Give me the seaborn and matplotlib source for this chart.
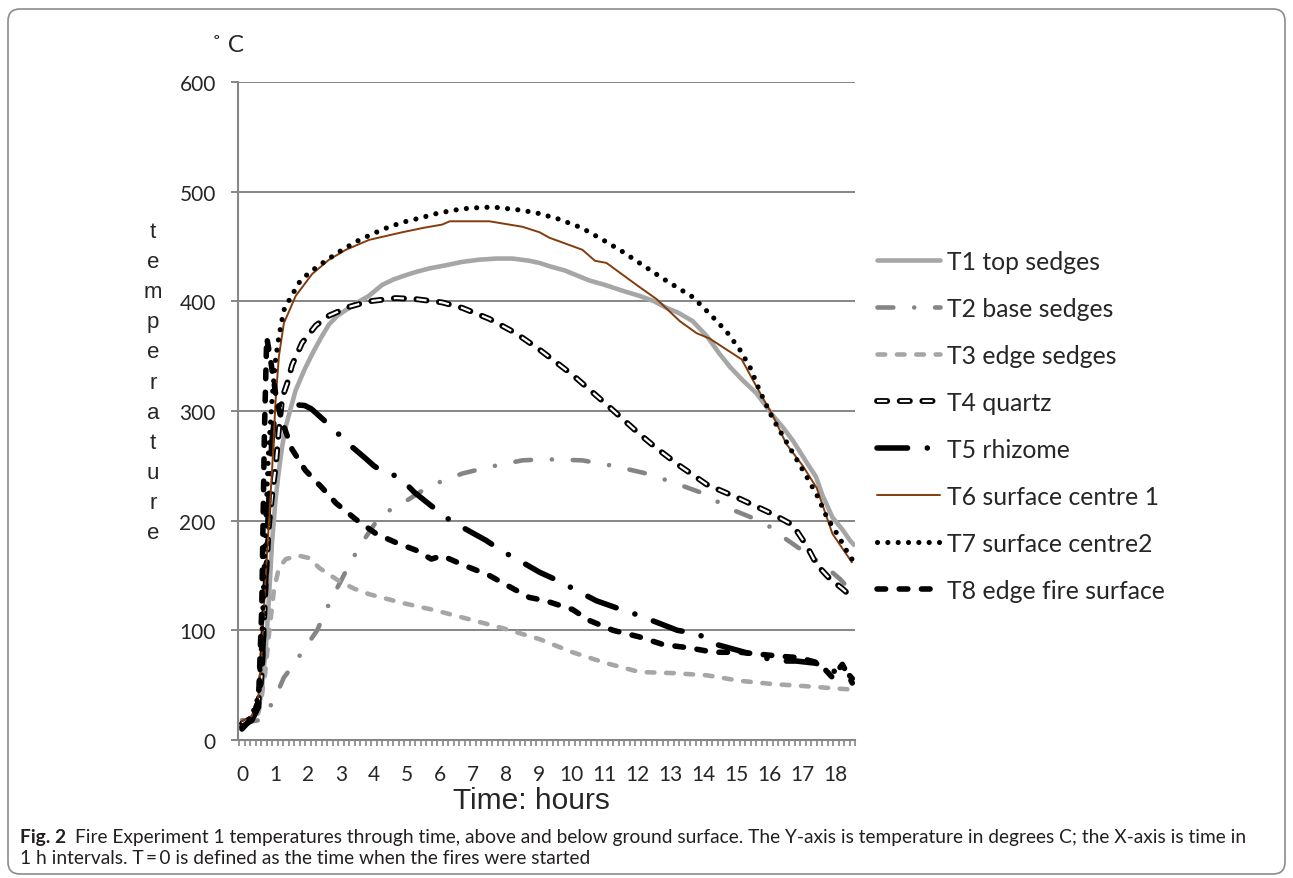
import numpy as np
import matplotlib
matplotlib.use("Agg")
import matplotlib.pyplot as plt
import matplotlib.patheffects as pe
from matplotlib.patches import FancyBboxPatch
import seaborn as sns

# ---------------- data ----------------
t1_h = [0, 0.3, 0.5, 0.6, 0.73, 0.82, 0.91, 1.02, 1.12, 1.22, 1.33, 1.5, 1.63, 1.9, 2.13, 2.4, 2.64, 2.9,
        3.15, 3.5, 3.85, 4.25, 4.6, 4.98, 5.3, 5.68, 6.2, 6.68, 7.2, 7.71, 8.2, 8.71, 9.02, 9.32, 9.8,
        10.53, 11.0, 11.5, 12.05, 12.5, 12.87, 13.2, 13.66, 14.1, 14.48, 14.8, 15.18, 15.6, 16.09, 16.4,
        16.7, 17.12, 17.4, 17.6, 17.9, 18.2, 18.43, 18.55]
t1_v = [15, 18, 28, 45, 87, 130, 180, 220, 246, 268, 286, 305, 319, 338, 352, 367, 379, 387,
        392, 399, 405, 415, 420, 424, 427, 430, 433, 436, 438, 439, 439, 437, 435, 432, 428,
        419, 415, 410, 405, 400, 394, 390, 382, 368, 352, 340, 328, 316, 296, 285,
        273, 253, 240, 223, 203, 192, 182, 178]

t2_h = [0, 0.3, 0.5, 0.7, 0.88, 1.1, 1.27, 1.5, 1.82, 2.05, 2.28, 2.5, 2.73, 3.0, 3.25, 3.64, 4.16, 4.6,
        4.98, 5.5, 5.98, 6.68, 7.5, 8.5, 9.2, 10.32, 11.25, 12.26, 13.06, 13.97, 14.78, 15.6, 16.09,
        16.5, 17.12, 17.73, 18.12, 18.5]
t2_v = [18, 17, 18, 22, 32, 45, 57, 66, 80, 90, 100, 115, 130, 145, 160, 180, 203, 212,
        218, 228, 235, 243, 249, 255, 256, 255, 250, 243, 235, 225, 211, 201, 193,
        183, 170, 157, 147, 135]

t3_h = [0, 0.3, 0.5, 0.6, 0.7, 0.82, 0.97, 1.12, 1.33, 1.73, 2.03, 2.34, 2.94, 3.4, 3.85, 4.86, 5.89,
        6.9, 7.9, 9.02, 10.02, 11.05, 12.05, 13.06, 14.09, 15.09, 16.09, 17.12, 18.0, 18.5]
t3_v = [15, 17, 25, 40, 60, 97, 137, 157, 165, 168, 166, 157, 145, 138, 133, 125, 118,
        110, 102, 92, 80, 70, 62, 61, 59, 54, 51, 49, 47, 46]

t4_h = [0, 0.3, 0.5, 0.6, 0.73, 0.82, 0.92, 1.02, 1.12, 1.22, 1.37, 1.52, 1.82, 2.24, 2.64, 3.25, 3.85,
        4.67, 5.28, 6.07, 6.68, 7.5, 8.3, 9.02, 10.02, 11.05, 12.05, 12.57, 13.27, 14.09, 15.09, 16.09,
        16.7, 17.12, 17.42, 17.82, 18.2, 18.5]
t4_v = [15, 20, 35, 60, 150, 196, 225, 249, 283, 312, 325, 342, 362, 378, 387, 395, 400,
        403, 402, 399, 394, 384, 371, 356, 333, 306, 279, 266, 250, 233, 220, 206,
        196, 177, 160, 147, 138, 130]

t5_h = [0, 0.3, 0.5, 0.6, 0.7, 0.8, 0.9, 1.0, 1.1, 1.5, 1.9, 2.1, 2.25, 2.73, 3.19, 3.7, 4.0, 4.3, 4.77,
        5.22, 5.76, 6.28, 6.8, 7.4, 7.9, 8.5, 9.02, 9.6, 10.23, 10.74, 11.4, 12.0, 12.6, 13.2, 13.8,
        14.4, 15.0, 15.6, 16.2, 16.8, 17.4, 17.9, 18.2, 18.5]
t5_v = [12, 18, 30, 60, 130, 210, 270, 298, 305, 306, 305, 302, 298, 285, 271, 258, 250, 244, 240,
        226, 213, 201, 192, 182, 172, 162, 153, 145, 135, 127, 120, 114, 107, 100, 97,
        87, 82, 77, 72, 72, 70, 62, 66, 56]

t6_h = [0, 0.3, 0.5, 0.6, 0.7, 0.8, 0.92, 1.02, 1.12, 1.27, 1.63, 2.13, 2.64, 3.15, 3.85, 4.86, 5.5,
        6.07, 6.3, 7.5, 8.5, 9.02, 9.32, 10.32, 10.7, 11.05, 11.96, 12.57, 13.27, 13.78, 14.18, 15.15,
        15.6, 16.09, 16.5, 17.0, 17.42, 17.9, 18.49]
t6_v = [17, 22, 40, 80, 140, 190, 250, 310, 350, 380, 405, 425, 438, 447, 456, 463, 467,
        470, 473, 473, 468, 463, 458, 447, 437, 435, 415, 402, 382, 371, 366, 347,
        322, 296, 270, 250, 230, 188, 162]

t7_h = [0, 0.3, 0.5, 0.6, 0.7, 0.8, 0.92, 1.02, 1.12, 1.27, 1.43, 1.73, 2.03, 2.54, 3.04, 3.5, 3.85,
        4.3, 4.86, 5.4, 5.89, 6.4, 6.9, 7.6, 8.5, 9.02, 9.6, 10.3, 11.0, 11.5, 12.05, 12.8, 13.66,
        14.2, 14.7, 15.09, 15.4, 15.7, 16.09, 16.5, 17.12, 17.45, 17.73, 18.1, 18.43, 18.55]
t7_v = [12, 22, 40, 90, 180, 260, 314, 347, 368, 392, 401, 417, 426, 437, 447, 455, 460,
        466, 472, 476, 480, 483, 485, 486, 483, 480, 475, 467, 455, 446, 435, 420, 404,
        388, 372, 356, 340, 318, 293, 272, 240, 222, 203, 185, 167, 163]

t8_h = [0, 0.3, 0.5, 0.6, 0.68, 0.75, 0.85, 0.95, 1.05, 1.15, 1.27, 1.52, 1.92, 2.43, 2.85, 3.46, 4.07,
        4.67, 5.28, 5.74, 6.07, 6.68, 7.5, 8.1, 8.71, 9.2, 10.02, 10.53, 11.25, 12.05, 12.77, 13.56,
        14.3, 15.1, 16.1, 16.9, 17.5, 17.9, 18.2, 18.5]
t8_v = [10, 20, 35, 120, 280, 367, 350, 330, 310, 298, 286, 265, 246, 230, 216, 201, 188,
        180, 173, 165, 168, 160, 150, 140, 130, 127, 119, 109, 100, 94, 87, 84,
        80, 80, 77, 75, 70, 57, 69, 52]

labels = ["T1 top sedges", "T2 base sedges", "T3 edge sedges", "T4 quartz", "T5 rhizome",
          "T6 surface centre 1", "T7 surface centre2", "T8 edge fire surface"]
x_ticks = list(range(0, 19))
y_ticks = list(range(0, 601, 100))

caption_bold = "Fig. 2"
caption_1 = ("Fire Experiment 1 temperatures through time, above and below ground surface. "
             "The Y-axis is temperature in degrees C; the X-axis is time in")
caption_2 = "1 h intervals. T\u2009=\u20090 is defined as the time when the fires were started"

# ---------------- figure ----------------
sns.set_style("white")
plt.rcParams["font.family"] = ["Lato", "DejaVu Sans"]

W, H = 1293, 879
fig = plt.figure(figsize=(W / 100, H / 100), dpi=100)
ax = fig.add_axes([238 / W, 1 - 741 / H, (855 - 238) / W, (741 - 83) / H])

GRID = "#868686"
series = [
    (t1_h, t1_v, dict(color="#A6A6A6", lw=3.3, dashes=None)),
    (t2_h, t2_v, dict(color="#858585", lw=3.3, dashes=(3.45, 4.55, 0.01, 4.55))),
    (t3_h, t3_v, dict(color="#A6A6A6", lw=3.3, dashes=(1.67, 2.56))),
    (t4_h, t4_v, dict(color="white", lw=1.6, dashes=(4.6, 5.6))),
    (t5_h, t5_v, dict(color="black", lw=4.0, dashes=(5.5, 3.55, 0.01, 3.55))),
    (t6_h, t6_v, dict(color="#843C0C", lw=1.4, dashes=None)),
    (t7_h, t7_v, dict(color="black", lw=3.7, dashes=(0.01, 2.0))),
    (t8_h, t8_v, dict(color="black", lw=4.0, dashes=(1.55, 2.45))),
]

handles = []
for (hx, hy, st), lab in zip(series, labels):
    sns.lineplot(x=hx, y=hy, ax=ax, color=st["color"], linewidth=st["lw"], label=lab,
                 sort=False, legend=False)
    line = ax.lines[-1]
    if st["dashes"] is not None:
        line.set_dashes(st["dashes"])
    if lab.startswith("T4"):
        line.set_dash_capstyle("butt")
        line.set_path_effects([pe.Stroke(linewidth=4.2, foreground="black", capstyle="round"),
                               pe.Normal()])
    else:
        line.set_dash_capstyle("round")
        line.set_solid_capstyle("round")
    handles.append(line)

ax.set_xlim(-0.12, 18.58)
ax.set_ylim(0, 600)
ax.set_xticks(x_ticks)
ax.set_xticklabels([str(v) for v in x_ticks])
ax.set_xticks(np.arange(-1 / 12, 18.6, 1 / 6), minor=True)
ax.set_yticks(y_ticks)
ax.set_yticklabels([str(v) for v in y_ticks])
ax.tick_params(axis="x", which="major", length=0, pad=17, labelsize=15, bottom=True)
ax.tick_params(axis="x", which="minor", length=4.5, width=1.2, color=GRID, direction="out", bottom=True)
ax.tick_params(axis="y", which="major", length=5, width=1.4, color=GRID, pad=11, labelsize=15, left=True)
ax.grid(axis="y", color=GRID, lw=1.4)
ax.grid(axis="x", visible=False)
ax.set_axisbelow(True)
for s in ("top", "right"):
    ax.spines[s].set_visible(False)
for s in ("left", "bottom"):
    ax.spines[s].set_color(GRID)
    ax.spines[s].set_linewidth(1.5)
ax.set_xlabel("")
ax.set_ylabel("")

# legend
ax.legend(handles, labels, loc="upper left", bbox_to_anchor=(877 / W, 1 - 251 / H),
          bbox_transform=fig.transFigure, frameon=False, handlelength=2.55, handletextpad=0.3,
          labelspacing=0.97, fontsize=17.8, borderpad=0, borderaxespad=0)

# axis titles
fig.text(531 / W, 1 - 801 / H, "Time: hours", ha="center", va="center", fontsize=21.5,
         family=["Liberation Sans", "DejaVu Sans"])
fig.text(153 / W, 1 - 222 / H, "\n".join("temperature"), ha="center", va="top", fontsize=16,
         linespacing=1.57, multialignment="center", family=["Liberation Sans", "DejaVu Sans"])
fig.text(212 / W, 1 - 46 / H, "\u02da C", ha="left", va="center", fontsize=17.5)

# caption
cap_fam = ["Liberation Sans Narrow", "Lato", "DejaVu Sans"]
Y1, Y2 = 838, 859
tb = fig.text(20 / W, 1 - Y1 / H, caption_bold, ha="left", va="center", fontsize=14,
              fontweight="bold", family=cap_fam, color="#231F20")
t1 = fig.text(80 / W, 1 - Y1 / H, caption_1, ha="left", va="center", fontsize=14, family=cap_fam,
              color="#231F20")
t2 = fig.text(20 / W, 1 - Y2 / H, caption_2, ha="left", va="center", fontsize=14, family=cap_fam,
              color="#231F20")
fig.canvas.draw()
r = fig.canvas.get_renderer()
w1 = t1.get_window_extent(r).width
fs = 14 * (1256 - 80) / w1
for t in (tb, t1, t2):
    t.set_fontsize(fs)
fig.canvas.draw()
bw = tb.get_window_extent(r).x1
t1.set_position(((bw + 9) / W, 1 - Y1 / H))

# rounded frame
frame = FancyBboxPatch((8 / 100, (879 - 875) / 100), (1285 - 8) / 100, (875 - 10) / 100,
                       boxstyle="round,pad=0,rounding_size=0.12", transform=fig.dpi_scale_trans,
                       fill=False, ec="#8C8C8C", lw=1.2)
fig.patches.append(frame)

fig.savefig("out.png", dpi=100)
